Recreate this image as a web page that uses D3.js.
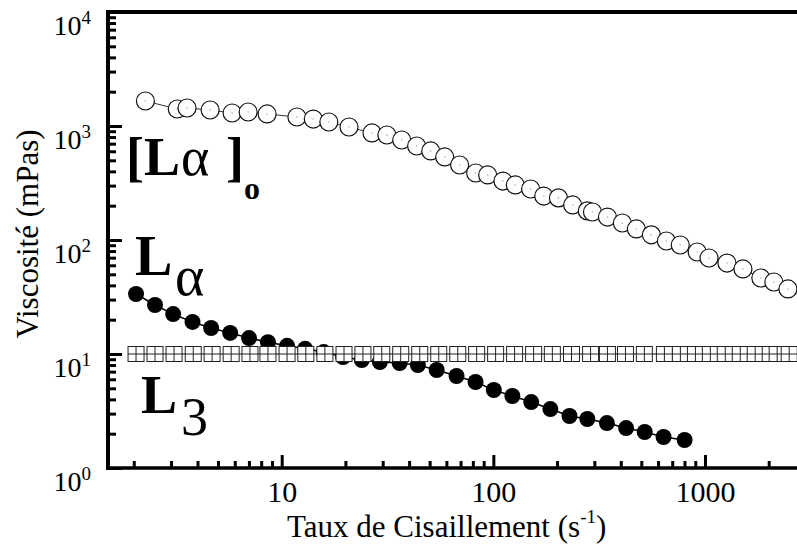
<!DOCTYPE html>
<html><head><meta charset="utf-8">
<script src="https://cdn.jsdelivr.net/npm/d3@7"></script>
<style>
body{margin:0;background:#fff}
svg{display:block}
text{font-family:"Liberation Serif","Times New Roman",serif;fill:#000}
</style></head>
<body><svg id="c" width="797" height="545"></svg>
<script>
// ---- data ----
const openX = [2.27,3.21,3.57,4.59,5.83,6.94,8.53,11.8,14.1,16.7,20.8,26.7,31.4,36.9,43.4,50.6,58.9,69.3,82.5,94.0,111,127,150,173,203,237,278,294,346,407,474,558,657,764,919,1045,1270,1511,1836,2115,2465];
const openY = [1657,1409,1438,1382,1300,1327,1275,1199,1151,1084,980,869,834,754,668,604,535,455,387,372,329,304,280,243,234,203,180,176,159,141,125,111,98,90.4,78.5,69.5,62.8,55.7,46.4,42.8,37.2];
const filledX = [2.05,2.52,3.07,3.79,4.64,5.71,7.01,8.61,10.6,12.9,15.8,19.5,23.9,29.1,36.1,44.0,54.0,67.0,82.4,100.5,123,151,186,229,278,344,424,519,637,801];
const filledY = [33.6,26.9,22.4,19.1,16.9,15.3,13.8,12.7,11.8,11.1,10.4,9.4,8.86,8.51,8.34,8.01,7.24,6.41,5.68,4.83,4.28,3.79,3.29,2.86,2.69,2.48,2.24,2.07,1.87,1.76];
const squareX = [2.05,2.52,3.10,3.82,4.69,5.77,7.08,8.61,10.6,13.0,16.0,19.7,24.2,29.7,36.5,44.9,55.2,67.9,83.4,102.5,126,155,190,234,288,346,421,517,643,765,901,1060,1247,1468,1727,2033,2193,2500];
const squareY = [10,10,10,10,10,10,10,10,10,10,10,10,10,10,10,10,10,10,10,10,10,10,10,10,10,10,10,10,10,10,10,10,10,10,10,10,10,10];
const xTickValues = [10,100,1000];
const xTickLabels = ["10","100","1000"];
const yTickValues = [1,10,100,1000,10000];
const yTickExps = ["0","1","2","3","4"];

// ---- layout ----
const svg = d3.select("#c");
const L = 108, R = 797, T = 12, B = 468;
const x = d3.scaleLog().domain([1.511, 2721]).range([L, R]);
const y = d3.scaleLog().domain([1, 10000]).range([B, T]);

const gPlot = svg.append("g");
svg.append("clipPath").attr("id","clip").append("rect")
  .attr("x", L).attr("y", T).attr("width", R - L + 5).attr("height", B - T);

const open = openX.map((v,i)=>({x:v,y:openY[i]}));
const filled = filledX.map((v,i)=>({x:v,y:filledY[i]}));
const squares = squareX.map((v,i)=>({x:v,y:squareY[i]}));
const line = d3.line().x(d=>x(d.x)).y(d=>y(d.y));

gPlot.append("path").datum(open).attr("d", line)
  .attr("fill","none").attr("stroke","#333").attr("stroke-width",1);
const og = gPlot.selectAll("g.o").data(open).enter().append("g");
og.append("circle").attr("cx",d=>x(d.x)).attr("cy",d=>y(d.y)).attr("r",9)
  .attr("fill","#fff").attr("stroke","#111").attr("stroke-width",1.2);
og.append("circle").attr("cx",d=>x(d.x)).attr("cy",d=>y(d.y)).attr("r",0.8).attr("fill","#aaa");

gPlot.append("path").datum(filled).attr("d", line)
  .attr("fill","none").attr("stroke","#000").attr("stroke-width",1.5);
gPlot.selectAll("circle.f").data(filled).enter().append("circle")
  .attr("cx",d=>x(d.x)).attr("cy",d=>y(d.y)).attr("r",8).attr("fill","#000");

gPlot.append("path").datum(squares).attr("d", line)
  .attr("fill","none").attr("stroke","#000").attr("stroke-width",1);
const sw = 16, sh = 15;
const sg = gPlot.selectAll("g.s").data(squares).enter().append("g");
sg.append("rect").attr("x",d=>x(d.x)-sw/2).attr("y",d=>y(d.y)-sh/2)
  .attr("width",sw).attr("height",sh).attr("fill","#fff").attr("stroke","#222").attr("stroke-width",1);
sg.append("line").attr("x1",d=>x(d.x)).attr("x2",d=>x(d.x))
  .attr("y1",d=>y(d.y)-sh/2).attr("y2",d=>y(d.y)+sh/2).attr("stroke","#222").attr("stroke-width",1);
sg.append("line").attr("x1",d=>x(d.x)-sw/2).attr("x2",d=>x(d.x)+sw/2)
  .attr("y1",d=>y(d.y)).attr("y2",d=>y(d.y)).attr("stroke","#222").attr("stroke-width",1);
gPlot.attr("clip-path","url(#clip)");

// ---- axes ----
const xMinor = x.ticks().filter(v => !xTickValues.includes(v));
const yMinor = y.ticks().filter(v => !yTickValues.includes(v));

const gx = svg.append("g").attr("transform",`translate(0,${B})`);
gx.call(d3.axisBottom(x).tickValues(xMinor).tickSizeInner(-7).tickSizeOuter(0).tickFormat(""));
gx.select(".domain").remove();
const gx2 = svg.append("g").attr("transform",`translate(0,${B})`);
gx2.call(d3.axisBottom(x).tickValues(xTickValues).tickSizeInner(-13).tickSizeOuter(0)
  .tickFormat((d,i)=>xTickLabels[i]));
gx2.select(".domain").remove();
gx2.selectAll("text").attr("y",34).attr("dy",0).style("font-size","30px")
  .style("font-family",'"Liberation Serif",serif').attr("fill","#000");

const gy = svg.append("g").attr("transform",`translate(${L},0)`);
gy.call(d3.axisLeft(y).tickValues(yMinor).tickSizeInner(-8).tickSizeOuter(0).tickFormat(""));
gy.select(".domain").remove();
const gy2 = svg.append("g").attr("transform",`translate(${L},0)`);
gy2.call(d3.axisLeft(y).tickValues(yTickValues).tickSizeInner(-14).tickSizeOuter(0).tickFormat(""));
gy2.select(".domain").remove();
svg.selectAll("g.tick line").attr("stroke","#000").attr("stroke-width",3);

yTickValues.forEach((v,i)=>{
  const t = svg.append("text").attr("text-anchor","end")
    .attr("x", 91).attr("y", y(v) + 23).style("font-size","28px");
  t.append("tspan").text("10");
  t.append("tspan").attr("dy",-11).style("font-size","19px").text(yTickExps[i]);
});

// frame lines
svg.append("line").attr("x1",L).attr("x2",L).attr("y1",T-2).attr("y2",B+2).attr("stroke","#000").attr("stroke-width",4);
svg.append("line").attr("x1",L-2).attr("x2",R+5).attr("y1",B).attr("y2",B).attr("stroke","#000").attr("stroke-width",3.5);
svg.append("line").attr("x1",L-2).attr("x2",R+5).attr("y1",T).attr("y2",T).attr("stroke","#000").attr("stroke-width",4);

// axis titles
const xt = svg.append("text").attr("x",287).attr("y",537).style("font-size","31px");
xt.append("tspan").text("Taux de Cisaillement (s");
xt.append("tspan").attr("dy",-14).style("font-size","19px").text("-1");
xt.append("tspan").attr("dy",14).text(")");

svg.append("text").attr("transform","translate(38,234) rotate(-90)")
  .attr("text-anchor","middle").style("font-size","31px").text("Viscosité (mPas)");

// annotations
svg.append("text").attr("x",126).attr("y",175).style("font-size","54px").style("font-weight","bold").text("[");
svg.append("text").attr("x",144).attr("y",175).style("font-size","54px").style("font-weight","bold").text("L");
svg.append("text").attr("x",181).attr("y",175).style("font-size","54px").text("α");
svg.append("text").attr("x",226).attr("y",175).style("font-size","54px").style("font-weight","bold").text("]");
svg.append("text").attr("x",244).attr("y",199).style("font-weight","bold").style("font-size","32px").text("o");

svg.append("text").attr("x",135).attr("y",275).style("font-size","56px").style("font-weight","bold").text("L");
svg.append("text").attr("x",175).attr("y",295).style("font-size","56px").text("α");

svg.append("text").attr("x",141).attr("y",413).style("font-size","54px").style("font-weight","bold").text("L");
svg.append("text").attr("x",181).attr("y",435).style("font-size","54px").text("3");
</script></body></html>
